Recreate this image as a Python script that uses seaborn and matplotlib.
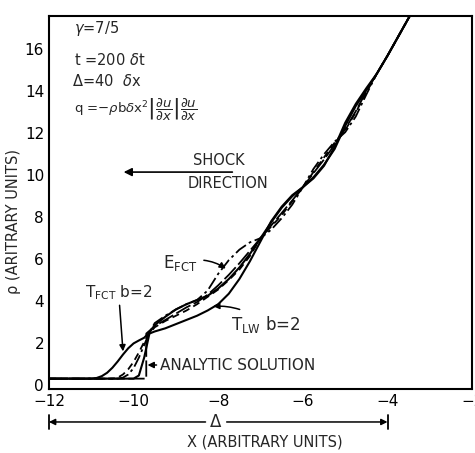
import matplotlib
matplotlib.use("Agg")
import matplotlib.pyplot as plt
import seaborn as sns
import pandas as pd

# shared x grid for the numerical solutions
x_grid = [-12.0, -11.5, -11.0, -10.875, -10.75, -10.625, -10.5, -10.375, -10.25, -10.125,
          -10.0, -9.875, -9.75, -9.625, -9.5, -9.25, -9.0, -8.75, -8.5, -8.25,
          -8.0, -7.75, -7.5, -7.25, -7.0, -6.75, -6.5, -6.25, -6.0, -5.75,
          -5.5, -5.25, -5.0, -4.75, -4.5, -4.25, -4.0, -3.75, -3.5, -3.25]

t_fct = [0.3, 0.3, 0.3, 0.33, 0.42, 0.58, 0.82, 1.12, 1.45, 1.75,
         1.98, 2.12, 2.25, 2.5, 2.85, 3.25, 3.6, 3.85, 4.05, 4.25,
         4.6, 5.05, 5.6, 6.25, 7.0, 7.75, 8.45, 9.0, 9.43, 9.9,
         10.5, 11.25, 12.35, 13.3, 14.05, 14.85, 15.7, 16.6, 17.5, 18.4]

t_lw = [0.3, 0.3, 0.3, 0.3, 0.3, 0.3, 0.3, 0.3, 0.3, 0.3,
        0.3, 0.45, 1.3, 2.45, 2.55, 2.7, 2.9, 3.1, 3.3, 3.55,
        3.85, 4.35, 5.05, 5.9, 6.85, 7.8, 8.5, 9.05, 9.43, 9.85,
        10.45, 11.35, 12.5, 13.4, 14.15, 14.85, 15.7, 16.6, 17.5, 18.4]

e_fct = [0.3, 0.3, 0.3, 0.3, 0.3, 0.3, 0.3, 0.3, 0.35, 0.5,
         0.8, 1.3, 1.9, 2.5, 2.95, 3.3, 3.6, 3.85, 4.05, 4.5,
         5.3, 5.95, 6.45, 6.8, 7.0, 7.4, 7.95, 8.6, 9.43, 10.3,
         11.0, 11.6, 12.05, 12.8, 13.85, 14.85, 15.7, 16.6, 17.5, 18.4]

dashed = [0.3, 0.3, 0.3, 0.3, 0.3, 0.3, 0.3, 0.35, 0.5, 0.75,
          1.1, 1.55, 2.05, 2.45, 2.75, 3.05, 3.3, 3.55, 3.85, 4.2,
          4.55, 5.0, 5.5, 6.15, 7.0, 7.55, 8.1, 8.75, 9.43, 10.15,
          10.85, 11.55, 12.15, 13.0, 13.95, 14.85, 15.7, 16.6, 17.5, 18.4]

# analytic solution (with the shock step)
x_an = [-12.0, -9.7, -9.7, -9.5, -9.25, -9.0, -8.75, -8.5, -8.25, -8.0, -7.75, -7.5, -7.25,
        -7.0, -6.75, -6.5, -6.25, -6.0, -5.75, -5.5, -5.25, -5.0, -4.75, -4.5, -4.25,
        -4.0, -3.75, -3.5, -3.25]
rho_an = [0.3, 0.3, 2.45, 2.8, 3.1, 3.4, 3.7, 3.95, 4.3, 4.75, 5.25, 5.8, 6.4,
          7.0, 7.6, 8.2, 8.8, 9.43, 10.1, 10.75, 11.45, 12.2, 13.05, 14.0, 14.85,
          15.7, 16.6, 17.5, 18.4]

x_ticks = [-12, -10, -8, -6, -4, -2]
y_ticks = [0, 2, 4, 6, 8, 10, 12, 14, 16]

sns.set_style("white")
plt.rcParams["font.family"] = ["DejaVu Sans"]
plt.rcParams["mathtext.fontset"] = "dejavusans"

fig = plt.figure(figsize=(4.75, 4.53), dpi=100)
ax = fig.add_axes([0.103, 0.141, 0.891, 0.824])

df = pd.DataFrame({"x": x_grid, "tfct": t_fct, "tlw": t_lw, "efct": e_fct, "dash": dashed})
an = pd.DataFrame({"x": x_an, "rho": rho_an})

kw = dict(ax=ax, color="k", estimator=None, sort=False, legend=False)
sns.lineplot(data=an, x="x", y="rho", linewidth=1.3, **kw)
ax.lines[-1].set_dashes([9, 2])
sns.lineplot(data=df, x="x", y="dash", linewidth=1.3, **kw)
ax.lines[-1].set_dashes([4, 2.5])
sns.lineplot(data=df, x="x", y="efct", linewidth=1.3, **kw)
ax.lines[-1].set_dashes([7, 2, 1.5, 2])
sns.lineplot(data=df, x="x", y="tfct", linewidth=1.5, **kw)
sns.lineplot(data=df, x="x", y="tlw", linewidth=1.5, **kw)

ax.set_xlim(-12, -2)
ax.set_ylim(-0.2, 17.6)
ax.set_xticks(x_ticks)
ax.set_xticklabels([str(t).replace("-", "\u2212") for t in x_ticks])
ax.set_yticks(y_ticks)
ax.tick_params(direction="in", length=8, width=1.2, labelsize=11, colors="k")
for s in ax.spines.values():
    s.set_linewidth(1.5)
    s.set_color("k")

ax.set_xlabel("X (ARBITRARY UNITS)", fontsize=10.5)
ax.xaxis.set_label_coords(0.51, -0.122)
ax.set_ylabel("\u03c1 (ARITRARY UNITS)", fontsize=10.5)
ax.yaxis.set_label_coords(-0.066, 0.45)

# parameter block
fs = 10.5
ax.text(-11.4, 17.0, r"$\gamma$=7/5", fontsize=fs, va="center")
ax.text(-11.4, 15.5, r"t =200 $\delta$t", fontsize=fs, va="center")
ax.text(-11.45, 14.5, r"$\Delta$=40  $\delta$x", fontsize=fs, va="center")
ax.text(-11.4, 13.1,
        r"q =$-\rho$b$\delta$x$^2\left|\dfrac{\partial u}{\partial x}\right|\dfrac{\partial u}{\partial x}$",
        fontsize=9.5, va="center")

# shock direction
ax.annotate("", xy=(-10.3, 10.15), xytext=(-7.6, 10.15),
            arrowprops=dict(arrowstyle="-|>", color="k", lw=1.2, mutation_scale=12))
ax.text(-7.98, 10.7, "SHOCK", fontsize=fs, ha="center", va="center")
ax.text(-7.78, 9.6, "DIRECTION", fontsize=fs, ha="center", va="center")

# curve labels
ax.annotate(r"E$_{\mathregular{FCT}}$", xy=(-7.82, 5.55), xytext=(-9.3, 5.8),
            fontsize=12, va="center",
            arrowprops=dict(arrowstyle="-|>", color="k", lw=1.1, mutation_scale=9,
                            shrinkA=2, shrinkB=0, connectionstyle="arc3,rad=-0.25"))
ax.annotate(r"T$_{\mathregular{FCT}}$ b=2", xy=(-10.25, 1.6), xytext=(-11.15, 4.4),
            fontsize=11, va="center",
            arrowprops=dict(arrowstyle="-|>", color="k", lw=1.1, mutation_scale=9,
                            shrinkA=0, shrinkB=0))
ax.annotate(r"T$_{\mathregular{LW}}$ b=2", xy=(-8.12, 3.75), xytext=(-7.7, 2.9),
            fontsize=12, va="center",
            arrowprops=dict(arrowstyle="-|>", color="k", lw=1.1, mutation_scale=9,
                            shrinkA=2, shrinkB=0, connectionstyle="arc3,rad=0.2"))
ax.annotate("ANALYTIC SOLUTION", xy=(-9.67, 0.95), xytext=(-9.38, 0.95),
            fontsize=11, va="center",
            arrowprops=dict(arrowstyle="-|>", color="k", lw=1.1, mutation_scale=9,
                            shrinkA=0, shrinkB=0))

# Delta span below the axis
tr = ax.get_xaxis_transform()
ax.annotate("", xy=(-12, -0.088), xytext=(-8.3, -0.088), xycoords=tr, textcoords=tr,
            arrowprops=dict(arrowstyle="-|>", color="k", lw=1.1, mutation_scale=9, shrinkA=0, shrinkB=0),
            annotation_clip=False)
ax.annotate("", xy=(-4, -0.088), xytext=(-7.8, -0.088), xycoords=tr, textcoords=tr,
            arrowprops=dict(arrowstyle="-|>", color="k", lw=1.1, mutation_scale=9, shrinkA=0, shrinkB=0),
            annotation_clip=False)
ax.plot([-12, -12], [-0.068, -0.108], transform=tr, color="k", lw=1.3, clip_on=False)
ax.plot([-4, -4], [-0.068, -0.108], transform=tr, color="k", lw=1.3, clip_on=False)
ax.text(-8.05, -0.088, r"$\Delta$", transform=tr, fontsize=12, ha="center", va="center")

fig.savefig("out.png", dpi=100)
